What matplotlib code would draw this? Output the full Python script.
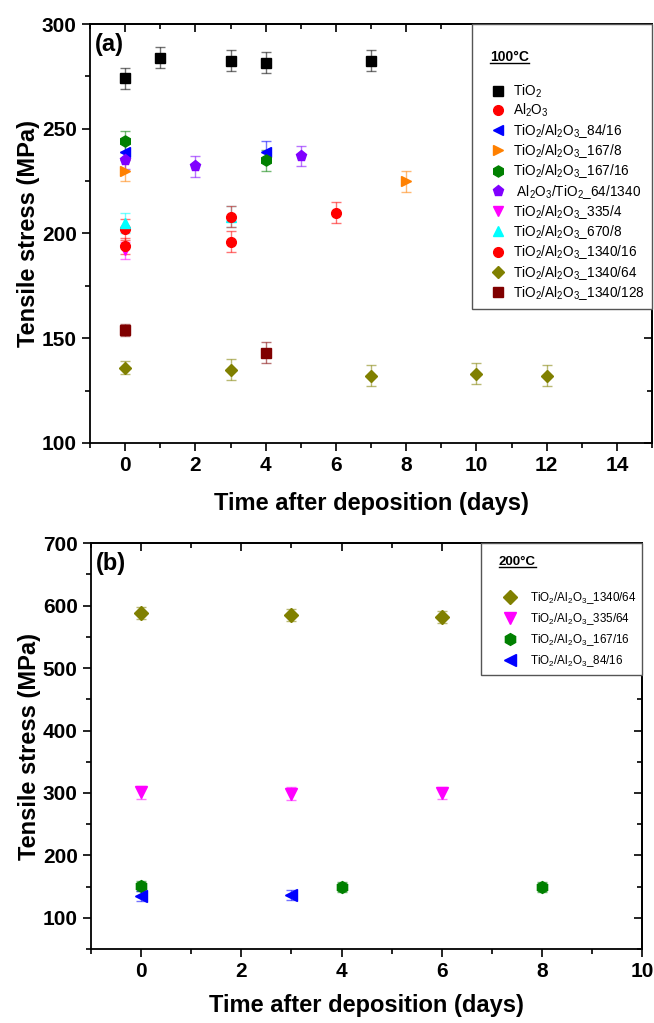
import matplotlib
matplotlib.use("Agg")
import matplotlib.pyplot as plt
from matplotlib.ticker import MultipleLocator, NullFormatter
from matplotlib.lines import Line2D

plt.rcParams['font.family'] = ['Liberation Sans', 'DejaVu Sans']
plt.rcParams['font.weight'] = 'bold'
plt.rcParams['axes.labelweight'] = 'bold'
plt.rcParams['mathtext.default'] = 'regular'

# ---- panel (a): 100 C ----
tio2_days = [0, 1, 3, 4, 7]
tio2_stress = [274, 284, 282.5, 281.5, 282.5]
tio2_err = [5, 5, 5, 5, 5]

al2o3_days = [0, 3, 6]
al2o3_stress = [202, 196, 210]
al2o3_err = [5, 5, 5]

a_84_16_days = [0, 4]
a_84_16_stress = [239, 239]
a_84_16_err = [4, 5]

a_167_8_days = [0, 8]
a_167_8_stress = [230, 225]
a_167_8_err = [5, 5]

a_167_16_days = [0, 4]
a_167_16_stress = [244, 235]
a_167_16_err = [5, 5]

a_64_1340_days = [0, 2, 5]
a_64_1340_stress = [235, 232, 237]
a_64_1340_err = [4, 5, 5]

a_335_4_days = [0]
a_335_4_stress = [192]
a_335_4_err = [4]

a_670_8_days = [0, 3]
a_670_8_stress = [205, 208]
a_670_8_err = [5, 5]

a_1340_16_days = [0, 3]
a_1340_16_stress = [194, 208]
a_1340_16_err = [4, 5]

a_1340_64_days = [0, 3, 7, 10, 12]
a_1340_64_stress = [136, 135, 132, 133, 132]
a_1340_64_err = [3, 5, 5, 5, 5]

a_1340_128_days = [0, 4]
a_1340_128_stress = [154, 143]
a_1340_128_err = [3, 5]

# ---- panel (b): 200 C ----
b_1340_64_days = [0, 3, 6]
b_1340_64_stress = [588, 585, 582]
b_1340_64_err = [10, 10, 10]

b_335_64_days = [0, 3, 6]
b_335_64_stress = [301, 299, 300]
b_335_64_err = [10, 10, 10]

b_167_16_days = [0, 4, 8]
b_167_16_stress = [151, 150, 149]
b_167_16_err = [8, 8, 8]

b_84_16_days = [0, 3]
b_84_16_stress = [135, 136]
b_84_16_err = [8, 8]

TA = r'TiO$_2$/Al$_2$O$_3$_'


def plot_series(ax, days, stress, err, color, marker, ms, label):
    ax.errorbar(days, stress, yerr=err, fmt='none', ecolor=color, alpha=0.55,
                elinewidth=1, capsize=3.5, capthick=1, zorder=2)
    ax.plot(days, stress, linestyle='none', marker=marker, color=color,
            ms=ms, label=label, zorder=3)


def style_axes(ax, xlim, ylim, xstep, ystep, xlabelpad):
    ax.set_xlim(*xlim)
    ax.set_ylim(*ylim)
    ax.xaxis.set_major_locator(MultipleLocator(xstep))
    ax.xaxis.set_minor_locator(MultipleLocator(xstep / 2))
    ax.yaxis.set_major_locator(MultipleLocator(ystep))
    ax.yaxis.set_minor_locator(MultipleLocator(ystep / 2))
    ax.tick_params(which='major', direction='out', length=6, width=1.2, labelsize=15)
    ax.tick_params(which='minor', direction='out', length=3.5, width=1.2)
    for s in ax.spines.values():
        s.set_linewidth(1.3)
    # mirrored ticks pointing inwards
    top = ax.secondary_xaxis('top')
    top.xaxis.set_major_locator(MultipleLocator(xstep))
    top.xaxis.set_minor_locator(MultipleLocator(xstep / 2))
    top.xaxis.set_major_formatter(NullFormatter())
    top.tick_params(which='major', direction='in', length=6, width=1.2)
    top.tick_params(which='minor', direction='in', length=3.5, width=1.2)
    right = ax.secondary_yaxis('right')
    right.yaxis.set_major_locator(MultipleLocator(ystep))
    right.yaxis.set_minor_locator(MultipleLocator(ystep / 2))
    right.yaxis.set_major_formatter(NullFormatter())
    right.tick_params(which='major', direction='in', length=6, width=1.2)
    right.tick_params(which='minor', direction='in', length=3.5, width=1.2)
    for sec in (top, right):
        for s in sec.spines.values():
            s.set_linewidth(1.3)
    ax.set_xlabel('Time after deposition (days)', fontsize=17, labelpad=xlabelpad)
    ax.set_ylabel('Tensile stress (MPa)', fontsize=17, labelpad=1)


fig = plt.figure(figsize=(6.54, 10.23), dpi=100)
ax1 = fig.add_axes([0.1376, 0.567, 0.8594, 0.4095])
ax2 = fig.add_axes([0.139, 0.0723, 0.843, 0.3967])

plot_series(ax1, tio2_days, tio2_stress, tio2_err, 'black', 's', 6.5, r'TiO$_2$')
plot_series(ax1, al2o3_days, al2o3_stress, al2o3_err, '#FF0000', 'o', 7, r'Al$_2$O$_3$')
plot_series(ax1, a_84_16_days, a_84_16_stress, a_84_16_err, '#0000FF', '<', 7.5, TA + '84/16')
plot_series(ax1, a_167_8_days, a_167_8_stress, a_167_8_err, '#FF8000', '>', 7.5, TA + '167/8')
plot_series(ax1, a_167_16_days, a_167_16_stress, a_167_16_err, '#008000', 'h', 8, TA + '167/16')
plot_series(ax1, a_64_1340_days, a_64_1340_stress, a_64_1340_err, '#8000FF', 'p', 8,
            r' Al$_2$O$_3$/TiO$_2$_64/1340')
plot_series(ax1, a_335_4_days, a_335_4_stress, a_335_4_err, '#FF00FF', 'v', 7.5, TA + '335/4')
plot_series(ax1, a_670_8_days, a_670_8_stress, a_670_8_err, '#00FFFF', '^', 7.5, TA + '670/8')
plot_series(ax1, a_1340_16_days, a_1340_16_stress, a_1340_16_err, '#FF0000', 'o', 7, TA + '1340/16')
plot_series(ax1, a_1340_64_days, a_1340_64_stress, a_1340_64_err, '#808000', 'D', 6.5, TA + '1340/64')
plot_series(ax1, a_1340_128_days, a_1340_128_stress, a_1340_128_err, '#800000', 's', 6.5, TA + '1340/128')

plot_series(ax2, b_1340_64_days, b_1340_64_stress, b_1340_64_err, '#808000', 'D', 7, TA + '1340/64')
plot_series(ax2, b_335_64_days, b_335_64_stress, b_335_64_err, '#FF00FF', 'v', 8.5, TA + '335/64')
plot_series(ax2, b_167_16_days, b_167_16_stress, b_167_16_err, '#008000', 'h', 8.5, TA + '167/16')
plot_series(ax2, b_84_16_days, b_84_16_stress, b_84_16_err, '#0000FF', '<', 8.5, TA + '84/16')

style_axes(ax1, (-1, 15), (100, 300), 2, 50, 12)
style_axes(ax2, (-1, 10), (50, 700), 2, 100, 9)

ax1.text(0.008, 0.95, '(a)', transform=ax1.transAxes, fontsize=17, va='center')
ax2.text(0.009, 0.95, '(b)', transform=ax2.transAxes, fontsize=17, va='center')

# legends: a blank title reserves the room for the underlined heading
leg1 = ax1.legend(loc='upper right', bbox_to_anchor=(1, 1), borderaxespad=0,
                  prop={'weight': 'normal', 'size': 9.8}, title=' ',
                  title_fontproperties={'size': 10},
                  fancybox=False, edgecolor='#555555',
                  handlelength=2.8, handletextpad=-0.24, labelspacing=0.17,
                  borderpad=0.5, framealpha=1)
leg1.get_frame().set_linewidth(1)
leg1._legend_box.sep = 27

leg2 = ax2.legend(loc='upper right', bbox_to_anchor=(1, 1), borderaxespad=0,
                  prop={'weight': 'normal', 'size': 8.4}, title=' ',
                  title_fontproperties={'size': 9.5},
                  fancybox=False, edgecolor='#555555',
                  handlelength=4.0, handletextpad=-0.27, labelspacing=0.45,
                  borderpad=0.5, framealpha=1)
leg2.get_frame().set_linewidth(1)
leg2._legend_box.sep = 21

fig.canvas.draw()
renderer = fig.canvas.get_renderer()
inv = fig.transFigure.inverted()
for leg, title, size, dx, dy in [(leg1, '100°C', 10, 18, 33), (leg2, '200°C', 9.5, 18, 19)]:
    fb = leg.get_window_extent(renderer)
    x, y = inv.transform((fb.x0 + dx, fb.y1 - dy))
    t = fig.text(x, y, title, fontsize=size, fontweight='bold', ha='left', va='center')
    bb = t.get_window_extent(renderer)
    (x0, y0), (x1, _) = inv.transform([(bb.x0, bb.y0 + 1), (bb.x1, bb.y0 + 1)])
    fig.add_artist(Line2D([x0, x1], [y0, y0], color='black', lw=1))

fig.savefig('out.png', dpi=100)
